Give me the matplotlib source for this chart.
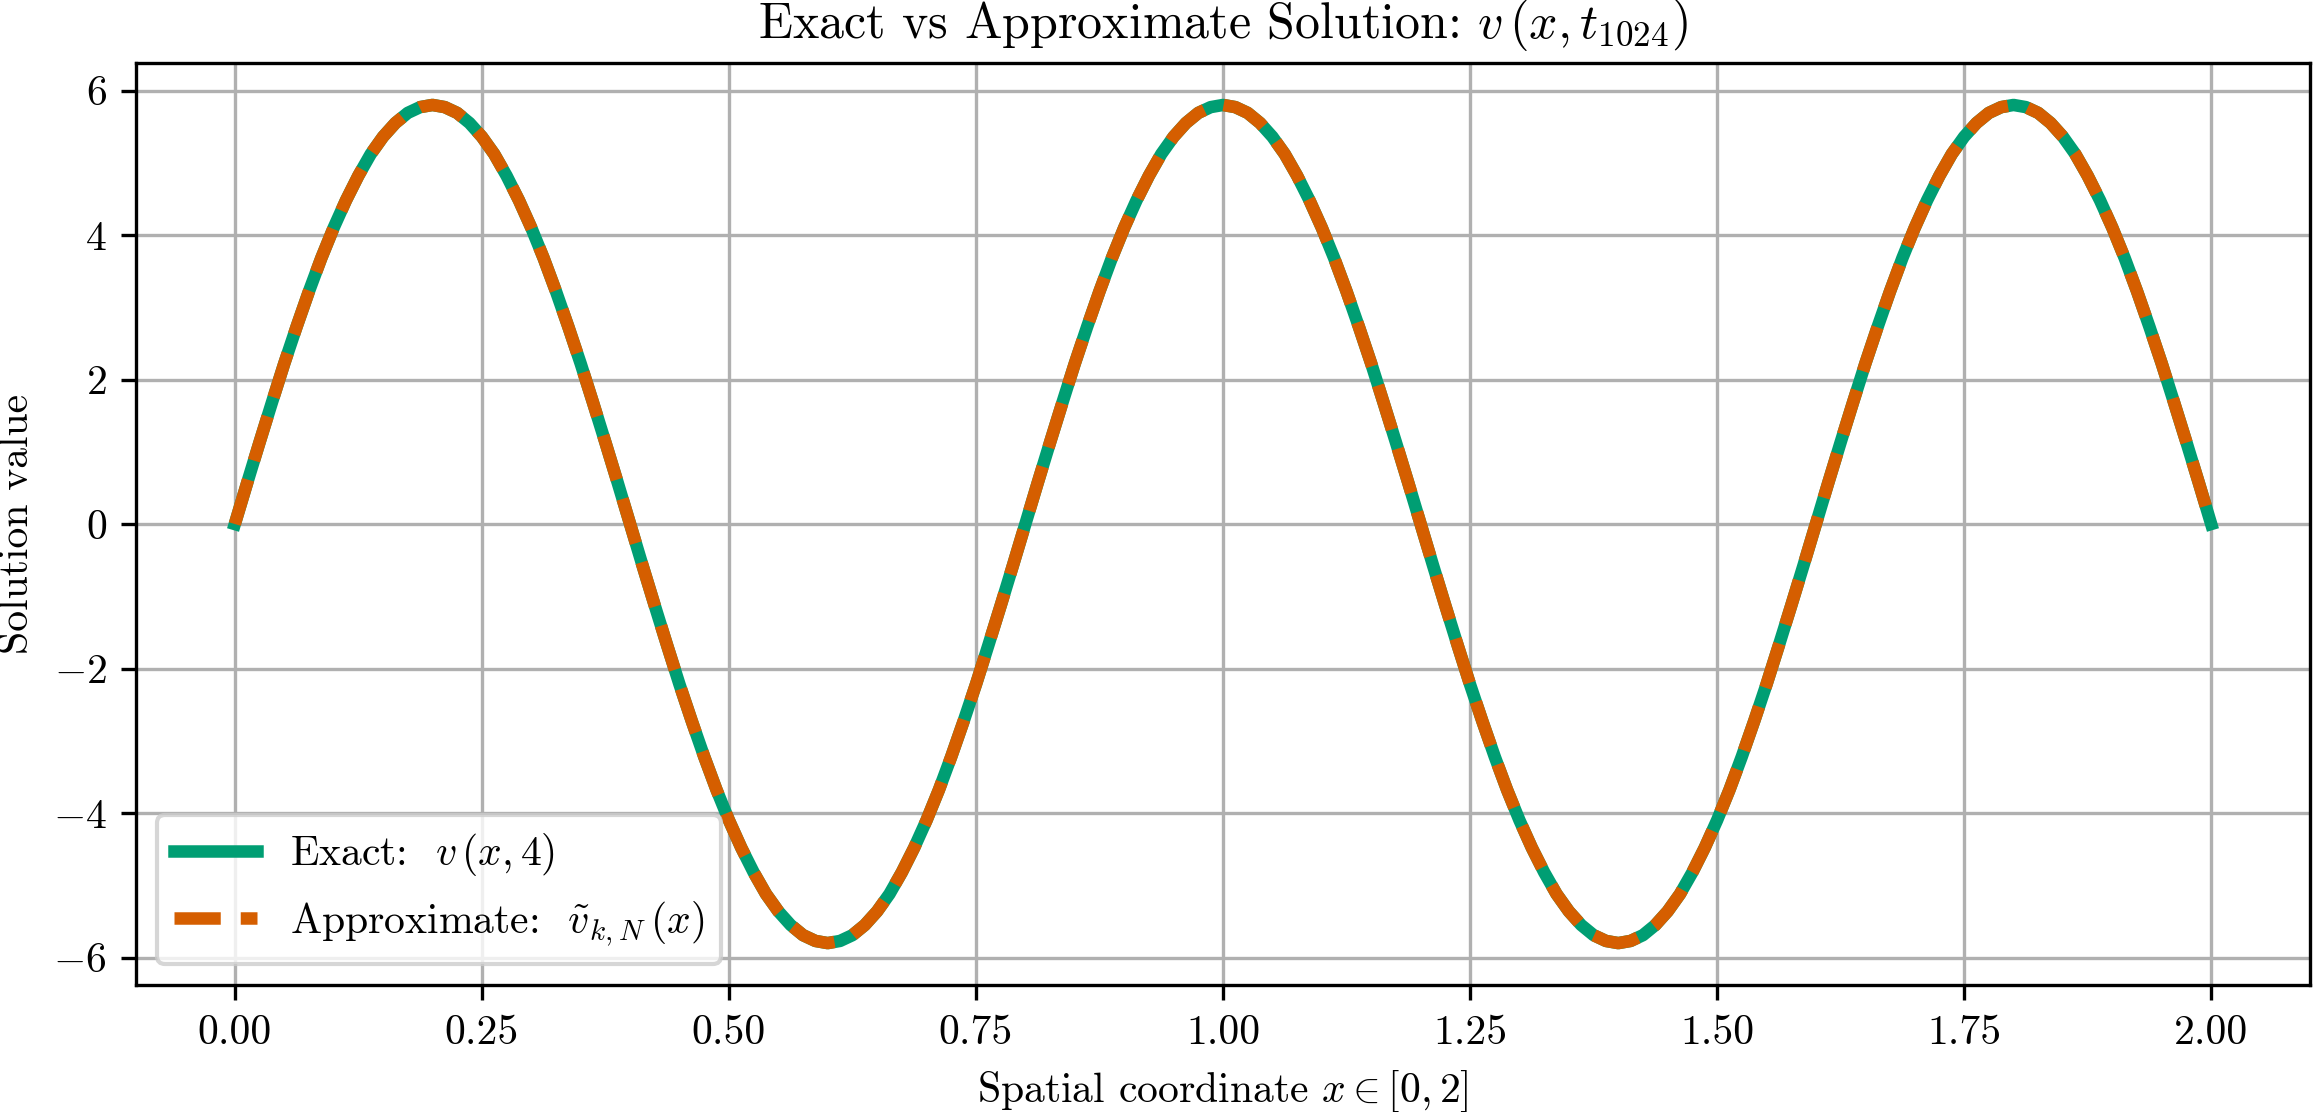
import numpy as np
import matplotlib
matplotlib.use("Agg")
import matplotlib.pyplot as plt

#====================================================================================================
## data (x grid every 0.0125)
x = np.linspace(0.0, 2.0, 161)

v_exact = [
    0.00, 0.57, 1.13, 1.68, 2.22, 2.73, 3.22, 3.68, 4.10, 4.48, 4.82, 5.12, 5.36, 5.55, 5.69, 5.77,
    5.80, 5.77, 5.69, 5.55, 5.36, 5.12, 4.82, 4.48, 4.10, 3.68, 3.22, 2.73, 2.22, 1.68, 1.13, 0.57,
    0.00, -0.57, -1.13, -1.68, -2.22, -2.73, -3.22, -3.68, -4.10, -4.48, -4.82, -5.12, -5.36, -5.55, -5.69, -5.77,
    -5.80, -5.77, -5.69, -5.55, -5.36, -5.12, -4.82, -4.48, -4.10, -3.68, -3.22, -2.73, -2.22, -1.68, -1.13, -0.57,
    0.00, 0.57, 1.13, 1.68, 2.22, 2.73, 3.22, 3.68, 4.10, 4.48, 4.82, 5.12, 5.36, 5.55, 5.69, 5.77,
    5.80, 5.77, 5.69, 5.55, 5.36, 5.12, 4.82, 4.48, 4.10, 3.68, 3.22, 2.73, 2.22, 1.68, 1.13, 0.57,
    0.00, -0.57, -1.13, -1.68, -2.22, -2.73, -3.22, -3.68, -4.10, -4.48, -4.82, -5.12, -5.36, -5.55, -5.69, -5.77,
    -5.80, -5.77, -5.69, -5.55, -5.36, -5.12, -4.82, -4.48, -4.10, -3.68, -3.22, -2.73, -2.22, -1.68, -1.13, -0.57,
    0.00, 0.57, 1.13, 1.68, 2.22, 2.73, 3.22, 3.68, 4.10, 4.48, 4.82, 5.12, 5.36, 5.55, 5.69, 5.77,
    5.80, 5.77, 5.69, 5.55, 5.36, 5.12, 4.82, 4.48, 4.10, 3.68, 3.22, 2.73, 2.22, 1.68, 1.13, 0.57,
    0.00,
]
# approximation lies on top of the exact solution
v_approx = list(v_exact)

xticks = [0.00, 0.25, 0.50, 0.75, 1.00, 1.25, 1.50, 1.75, 2.00]
yticks = [-6, -4, -2, 0, 2, 4, 6]

#====================================================================================================
## style
plt.rcParams['font.family'] = 'serif'
plt.rcParams['font.serif'] = ['cmr10', 'DejaVu Serif']
plt.rcParams['mathtext.fontset'] = 'cm'
plt.rcParams['axes.formatter.use_mathtext'] = True
plt.rcParams['font.size'] = 10

fig, ax = plt.subplots(figsize=(2313 / 300, 1112 / 300), dpi=300)

ax.plot(x, v_exact, color='#009E73', lw=3, label=r'Exact:  $v\,(x, 4)$')
ax.plot(x, v_approx, color='#D55E00', lw=3, ls='--', label=r'Approximate:  $\tilde{v}_{k,N}\,(x)$')

ax.set_xticks(xticks)
ax.set_yticks(yticks)
ax.set_xticklabels([f'{t:.2f}' for t in xticks])
ax.grid(True, color='#b0b0b0', lw=0.8)
ax.set_axisbelow(True)

ax.set_title(r'Exact vs Approximate Solution: $v\,(x, t_{1024})$', fontsize=12)
ax.set_xlabel(r'Spatial coordinate $x \in [0, 2]$')
ax.set_ylabel('Solution value')
ax.legend(loc='lower left')

fig.subplots_adjust(left=0.0588, right=0.9987, top=0.9433, bottom=0.1142)
fig.savefig('out.png', dpi=300)
